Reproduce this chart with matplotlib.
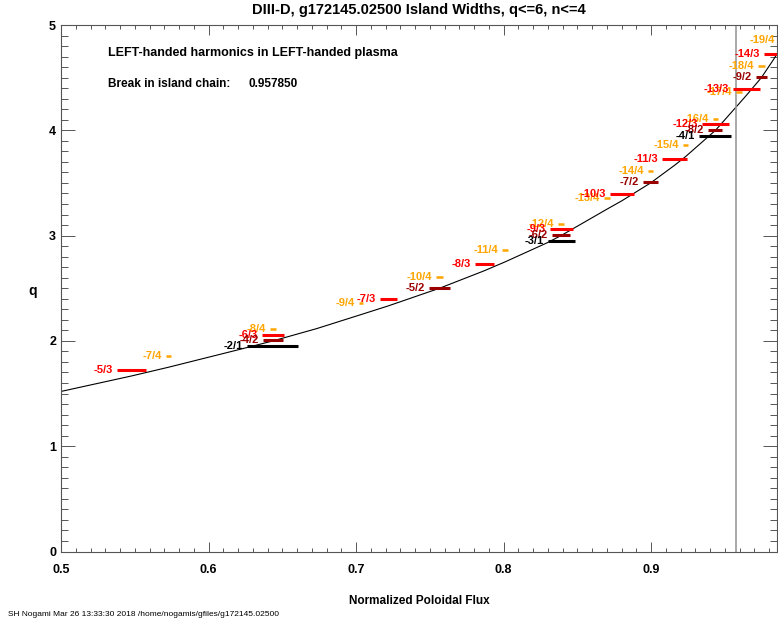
import matplotlib
matplotlib.use("Agg")
import matplotlib.pyplot as plt
from matplotlib.ticker import MultipleLocator, FormatStrFormatter

plt.rcParams['font.family'] = ['Liberation Sans', 'DejaVu Sans']

# q profile vs normalized poloidal flux
psi = [0.500, 0.5478, 0.5729, 0.6191, 0.6437, 0.6734, 0.7034, 0.7220, 0.7566,
       0.7871, 0.8010, 0.8293, 0.8390, 0.8700, 0.8805, 0.8997, 0.9159, 0.9234,
       0.9437, 0.9595, 0.9647, 0.9748, 0.9828, 0.9870]
q = [1.52, 1.667, 1.75, 1.912, 2.0, 2.117, 2.25, 2.333, 2.5,
     2.667, 2.75, 2.93, 3.0, 3.25, 3.333, 3.5, 3.667, 3.75,
     4.0, 4.25, 4.333, 4.5, 4.667, 4.76]

# resonant harmonics: poloidal m, toroidal n, surface location and island width
mode_m = [2, 3, 4,
          4, 5, 6, 7, 8, 9,
          5, 6, 7, 8, 9, 10, 11, 12, 13, 14,
          7, 8, 9, 10, 11, 12, 13, 14, 15, 16, 17, 18, 19]
mode_n = [1, 1, 1,
          2, 2, 2, 2, 2, 2,
          3, 3, 3, 3, 3, 3, 3, 3, 3, 3,
          4, 4, 4, 4, 4, 4, 4, 4, 4, 4, 4, 4, 4]
psi_res = [0.6437, 0.8390, 0.9437,
           0.6437, 0.7566, 0.8390, 0.8997, 0.9437, 0.9748,
           0.5478, 0.6437, 0.7220, 0.7871, 0.8390, 0.8805, 0.9159, 0.9437, 0.9647, 0.9828,
           0.5729, 0.6437, 0.7034, 0.7566, 0.8010, 0.8390, 0.8700, 0.8997, 0.9234,
           0.9437, 0.9595, 0.9748, 0.9885]
island_w = [0.0346, 0.0183, 0.0217,
            0.0136, 0.0142, 0.0122, 0.0102, 0.0095, 0.0075,
            0.0197, 0.0149, 0.0115, 0.0129, 0.0156, 0.0163, 0.0169, 0.0183, 0.0183, 0.0124,
            0.0032, 0.0037, 0.0032, 0.0044, 0.0037, 0.0037, 0.0040, 0.0032, 0.0032,
            0.0032, 0.0040, 0.0044, 0.0035]

psi_break = 0.957850

n_color = {1: 'black', 2: '#9b0000', 3: '#ff0000', 4: '#ffa500'}
n_shift = {1: -0.05, 2: 0.005, 3: 0.06, 4: 0.11}   # vertical separation of families

fig = plt.figure(figsize=(7.78, 6.24), dpi=100)
ax = fig.add_axes([61/778, 72.5/624, 716/778, 526.5/624])

ax.plot(psi, q, color='black', lw=0.8)
ax.axvline(psi_break, color='#999999', lw=1.2)

for nn in [4, 3, 2, 1]:
    for m, n, p, w in zip(mode_m, mode_n, psi_res, island_w):
        if n != nn:
            continue
        y = m / n + n_shift[n]
        ax.plot([p - w/2, p + w/2], [y, y], color=n_color[n],
                lw=2.2 if n < 4 else 1.8, solid_capstyle='butt')
        ax.annotate('-%d/%d' % (m, n), (p - w/2, y), xytext=(-3, 0),
                    textcoords='offset points', ha='right', va='center',
                    color=n_color[n], fontsize=8, fontweight='bold',
                    annotation_clip=False)

ax.set_xlim(0.5, 0.9854)
ax.set_ylim(0, 5)
ax.xaxis.set_major_locator(MultipleLocator(0.1))
ax.xaxis.set_minor_locator(MultipleLocator(0.01))
ax.yaxis.set_major_locator(MultipleLocator(1))
ax.yaxis.set_minor_locator(MultipleLocator(0.1))
ax.xaxis.set_major_formatter(FormatStrFormatter('%.1f'))
ax.tick_params(which='both', direction='in', top=True, right=True,
               labelsize=9, width=0.7, color='#555555')
ax.tick_params(axis='x', which='major', length=7.5, pad=9)
ax.tick_params(axis='x', which='minor', length=3)
ax.tick_params(axis='y', which='major', length=10)
ax.tick_params(axis='y', which='minor', length=5)
for lab in ax.get_xticklabels() + ax.get_yticklabels():
    lab.set_fontweight('bold')
for s in ax.spines.values():
    s.set_linewidth(0.8)
    s.set_color('#555555')

ax.set_title('DIII-D, g172145.02500 Island Widths, q<=6, n<=4', fontsize=10.5,
             fontweight='bold', pad=8)
ax.set_xlabel('Normalized Poloidal Flux', fontsize=8.5, fontweight='bold', labelpad=14)
ax.set_ylabel('q', fontsize=10, fontweight='bold', rotation=0, va='center')
ax.yaxis.set_label_coords(-0.04, 0.495)

ax.text(0.5319, 4.73, 'LEFT-handed harmonics in LEFT-handed plasma',
        fontsize=9, fontweight='bold', va='center')
ax.text(0.5319, 4.44, 'Break in island chain:', fontsize=8.5, fontweight='bold',
        va='center')
ax.text(0.6268, 4.44, '%f' % psi_break, fontsize=8.5, fontweight='bold', va='center')

fig.text(8/778, 1 - 614/624, 'SH Nogami Mar 26 13:33:30 2018 /home/nogamis/gfiles/g172145.02500',
         fontsize=6, va='center')

fig.savefig('out.png', dpi=100)
